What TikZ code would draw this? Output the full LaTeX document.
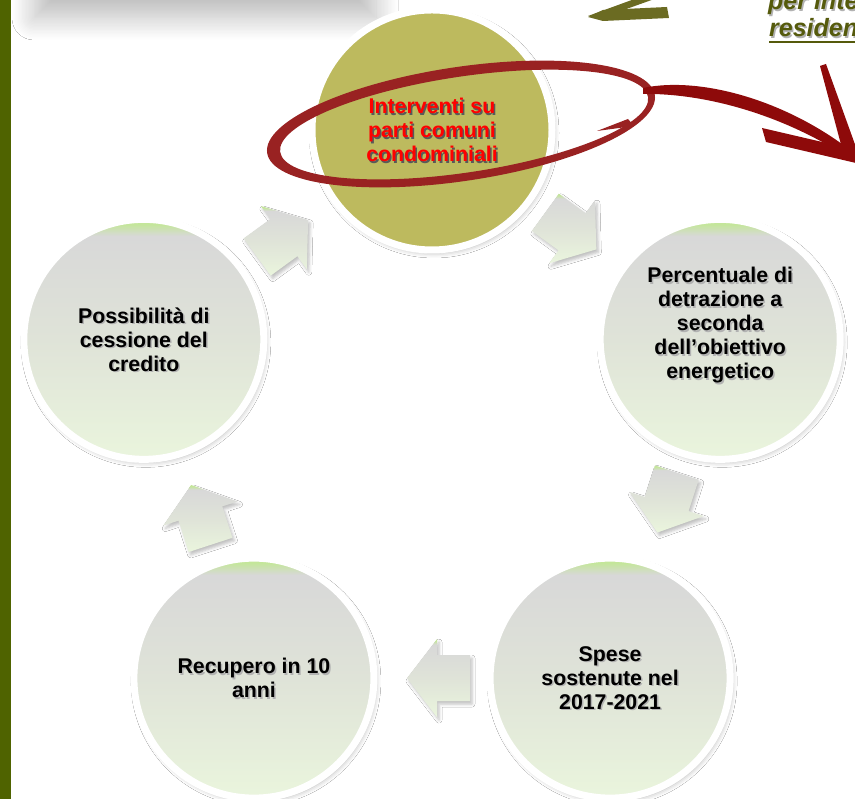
\documentclass[tikz,border=0pt]{standalone}
\usepackage{fontspec}
\setmainfont{Liberation Sans}
\usetikzlibrary{calc,shadows.blur}

\definecolor{barolive}{HTML}{4F6300}
\definecolor{hubolive}{HTML}{BDBA5E}
\definecolor{ringred}{HTML}{992222}
\definecolor{arrowred}{HTML}{8E0A0A}
\definecolor{notegreen}{HTML}{555A0C}
\definecolor{brushgreen}{HTML}{6B6B22}
\definecolor{fadetop}{HTML}{C4E69A}
\definecolor{fadegray}{HTML}{D8D8D8}
\definecolor{fademid}{HTML}{DFE3D8}
\definecolor{fadelow}{HTML}{EAF5DD}

% soft gray-to-green fill used by the stages and the block arrows
\pgfdeclareverticalshading{stagefade}{100bp}{color(0bp)=(fadelow); color(25bp)=(fadelow); color(50bp)=(fademid); color(71.5bp)=(fadegray); color(74bp)=(fadetop); color(100bp)=(fadetop)}

\tikzset{
  ringbase/.style={circle, minimum size=240, inner sep=0pt,
    draw=white, line width=7pt,
    blur shadow={shadow xshift=2pt, shadow yshift=-3pt, shadow blur radius=5pt, shadow opacity=30}},
  stage/.style={ringbase, shade, shading=stagefade},
  hubstage/.style={ringbase, fill=hubolive},
  flowbox/.style={shade, shading=stagefade,
    blur shadow={shadow xshift=2pt, shadow yshift=-3pt, shadow blur radius=3pt, shadow opacity=25}},
  stagetext/.style={align=center, inner sep=0pt, font=\bfseries\fontsize{21.3}{24}\selectfont},
  notetext/.style={anchor=base west, inner sep=0pt, font=\bfseries\itshape\fontsize{25}{29}\selectfont}
}

% block arrow centred between two stages, pointing along #4 (degrees)
\newcommand\flowarrow[4]{%
  \coordinate (#1) at ($(#2)!0.5!(#3)$);
  \path[flowbox] ($(#1)+(#4:-38)+(#4+90:23)$) -- ($(#1)+(#4:-5)+(#4+90:23)$)
    -- ($(#1)+(#4:-5)+(#4+90:39)$) -- ($(#1)+(#4:25)$)
    -- ($(#1)+(#4:-5)+(#4-90:39)$) -- ($(#1)+(#4:-5)+(#4-90:23)$)
    -- ($(#1)+(#4:-38)+(#4-90:23)$) -- cycle;}

% stage caption with a soft drop shadow behind it, raised by #5
\newcommand\stagelabel[5]{%
  \node[stagetext, text=#3] (#1-shade) at ($(#1)+(1.5,#5-1.5)$) {#4};
  \node[stagetext, text=#2] (#1-text) at ($(#1)+(0,#5)$) {#4};}

\begin{document}
\begin{tikzpicture}[x=1pt, y=1pt]
\useasboundingbox (0,0) rectangle (855,799);
\clip (0,0) rectangle (855,799);
\fill[white] (0,0) rectangle (855,799);

% lower edge of the panel above, with its shadow
\fill[white, blur shadow={shadow xshift=0pt, shadow yshift=-20pt, shadow blur radius=22pt,
    shadow blur steps=16, shadow opacity=26}]
  (34,801) rectangle (376,900);

% left accent bar
\fill[barolive] (0,0) rectangle (11,799);

% cycle of stages
\coordinate (ctr) at (432,366);
\node[hubstage] (hub)  at ($(ctr)+(90:303)$)   {};
\node[stage]    (rate) at ($(ctr)+(18:303)$)   {};
\node[stage]    (cost) at ($(ctr)+(-54:303)$)  {};
\node[stage]    (back) at ($(ctr)+(-126:303)$) {};
\node[stage]    (sell) at ($(ctr)+(162:303)$)  {};

\flowarrow{a1}{sell}{hub}{36}
\flowarrow{a2}{hub}{rate}{-36}
\flowarrow{a3}{rate}{cost}{-108}
\flowarrow{a4}{cost}{back}{180}
\flowarrow{a5}{back}{sell}{108}

\stagelabel{hub}{red}{black!65}{Interventi su\\parti comuni\\condominiali}{0}
\stagelabel{rate}{black}{black!30}{Percentuale di\\detrazione a\\seconda\\dell’obiettivo\\energetico}{14}
\stagelabel{cost}{black}{black!30}{Spese\\sostenute nel\\2017-2021}{0}
\stagelabel{back}{black}{black!30}{Recupero in 10\\anni}{0}
\stagelabel{sell}{black}{black!30}{Possibilità di\\cessione del\\credito}{0}

% brush-stroke ring around the first stage
\fill[ringred, even odd rule, rotate around={8.5:(461,675)}]
  (461,675) ellipse [x radius=196, y radius=57]
  (464,674) ellipse [x radius=186, y radius=48];

% brush strokes drawn in top-down coordinates
\begin{scope}[shift={(0,799)}, yscale=-1]
  \fill[ringred] (597,131) -- (628,119) -- (634,126) -- cycle;
  \fill[arrowred] (643,88) .. controls (700,76) and (785,100) .. (850,150)
    -- (852,160) .. controls (780,112) and (700,93) .. (643,94) -- cycle;
  \fill[arrowred] (820,66) -- (826,64) -- (857,150) -- (856,163) -- (843,152) -- cycle;
  \fill[arrowred] (762,128) -- (848,148) -- (856,163) -- (766,142) -- cycle;
  \fill[brushgreen] (588,17) -- (603,10) -- (667,7) -- (669,18) -- (603,21) -- cycle;
  \fill[brushgreen] (588,16) -- (640,-3) -- (660,-3) -- (604,17) -- cycle;
\end{scope}

% note in the upper right corner
\node[notetext, text=black!30] (note1-shade) at (769.5,787.5) {per interventi};
\node[notetext, text=notegreen] (note1) at (768,789) {per interventi};
\node[notetext, text=black!30] (note2-shade) at (770.5,760.5) {residenziali};
\node[notetext, text=notegreen] (note2) at (769,762) {residenziali};
\draw[notegreen, line width=2.4pt] ($(note2.base west)+(0,-5)$) -- ($(note2.base east)+(0,-5)$);
\end{tikzpicture}
\end{document}
